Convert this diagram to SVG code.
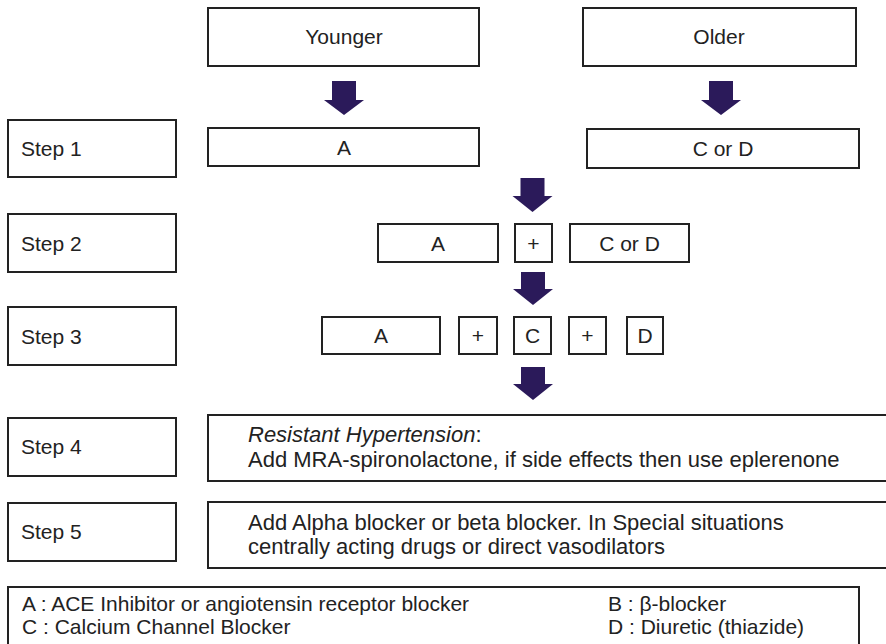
<svg xmlns="http://www.w3.org/2000/svg" width="886" height="644" viewBox="0 0 886 644">
<style>
.box{fill:#fff;stroke:#222;stroke-width:2}
.t{font-family:"Liberation Sans",Arial,sans-serif;font-size:21px;fill:#222}
.big{font-size:22px}
.c{text-anchor:middle}
.arr{fill:#2b1a5a}
</style>
<rect width="886" height="644" fill="#fff"/>
<g id="younger"><rect class="box" x="208" y="8" width="271" height="58"/><text class="t c" x="344" y="44">Younger</text></g>
<g id="older"><rect class="box" x="583" y="8" width="273" height="58"/><text class="t c" x="719" y="44">Older</text></g>
<g id="step1"><rect class="box" x="8" y="120" width="168" height="57"/><text class="t" x="21" y="156">Step 1</text></g>
<g id="s1a"><rect class="box" x="208" y="128" width="271" height="38"/><text class="t c" x="344" y="155">A</text></g>
<g id="s1cd"><rect class="box" x="587" y="129" width="272" height="39"/><text class="t c" x="723" y="156">C or D</text></g>
<g id="step2"><rect class="box" x="8" y="214" width="168" height="58"/><text class="t" x="21" y="251">Step 2</text></g>
<g id="s2a"><rect class="box" x="378" y="224" width="120" height="38"/><text class="t c" x="438" y="251">A</text></g>
<g id="s2p"><rect class="box" x="515" y="224" width="37" height="38"/><text class="t c" x="533.5" y="251">+</text></g>
<g id="s2cd"><rect class="box" x="570" y="224" width="119" height="38"/><text class="t c" x="629.5" y="251">C or D</text></g>
<g id="step3"><rect class="box" x="8" y="307" width="168" height="58"/><text class="t" x="21" y="344">Step 3</text></g>
<g id="s3a"><rect class="box" x="322" y="317" width="118" height="37"/><text class="t c" x="381" y="343">A</text></g>
<g id="s3p1"><rect class="box" x="459" y="317" width="38" height="37"/><text class="t c" x="478" y="343">+</text></g>
<g id="s3c"><rect class="box" x="514" y="317" width="37" height="37"/><text class="t c" x="532.5" y="343">C</text></g>
<g id="s3p2"><rect class="box" x="569" y="317" width="37" height="37"/><text class="t c" x="587.5" y="343">+</text></g>
<g id="s3d"><rect class="box" x="627" y="317" width="36" height="37"/><text class="t c" x="645" y="343">D</text></g>
<g id="step4"><rect class="box" x="8" y="418" width="168" height="58"/><text class="t" x="21" y="454">Step 4</text></g>
<g id="s4"><rect class="box" x="208" y="415" width="700" height="66"/><text class="t big" x="248" y="442"><tspan font-style="italic">Resistant Hypertension</tspan>:</text><text class="t big" x="248" y="467">Add MRA-spironolactone, if side effects then use eplerenone</text></g>
<g id="step5"><rect class="box" x="8" y="503" width="168" height="58"/><text class="t" x="21" y="539">Step 5</text></g>
<g id="s5"><rect class="box" x="208" y="502" width="700" height="66"/><text class="t big" x="248" y="530">Add Alpha blocker or beta blocker. In Special situations</text><text class="t big" x="248" y="554">centrally acting drugs or direct vasodilators</text></g>
<g id="legend"><rect class="box" x="8" y="587" width="851" height="70"/>
<text class="t" x="22" y="611">A : ACE Inhibitor or angiotensin receptor blocker</text>
<text class="t" x="22" y="634">C : Calcium Channel Blocker</text>
<text class="t" x="608" y="611">B : β-blocker</text>
<text class="t" x="608" y="634">D : Diuretic (thiazide)</text></g>
<g id="connectors">
<polygon class="arr" points="332,81 356,81 356,100 364,100 344,115 324,100 332,100"/>
<polygon class="arr" points="709,81 733,81 733,100 741,100 721,115 701,100 709,100"/>
<polygon class="arr" points="520.5,178 544.5,178 544.5,196 552.5,196 532.5,212 512.5,196 520.5,196"/>
<polygon class="arr" points="521,272 545,272 545,289 553,289 533,305 513,289 521,289"/>
<polygon class="arr" points="521,367 545,367 545,384 553,384 533,400 513,384 521,384"/>
</g>
</svg>
